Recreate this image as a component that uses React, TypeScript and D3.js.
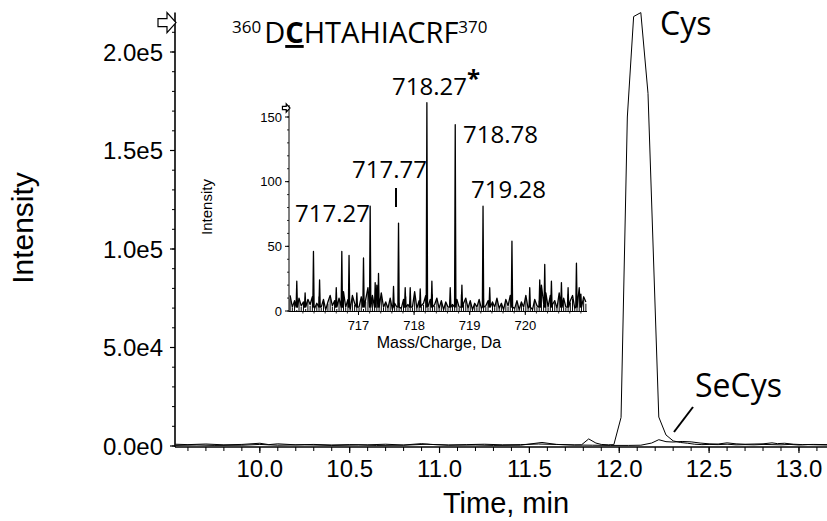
import React from 'react';
import * as d3 from 'd3';

const W = 827;
const H = 521;

// ---------- main chromatogram data ----------
const TIME_TICKS = [10.0, 10.5, 11.0, 11.5, 12.0, 12.5, 13.0];
const INTENSITY_TICKS = [0, 50000, 100000, 150000, 200000];
const INTENSITY_LABELS = ['0.0e0', '5.0e4', '1.0e5', '1.5e5', '2.0e5'];

const CYS_TIME = [9.53, 9.6, 9.7, 9.8, 9.9, 10.0, 10.05, 10.1, 10.2, 10.3, 10.4, 10.5, 10.6, 10.7, 10.8, 10.9, 10.95, 11.05, 11.15, 11.25, 11.35, 11.45, 11.55, 11.65, 11.75, 11.79, 11.83, 11.87, 11.9, 11.94, 11.97, 12.01, 12.045, 12.08, 12.12, 12.16, 12.22, 12.26, 12.3, 12.34, 12.38, 12.42, 12.46, 12.5, 12.55, 12.6, 12.65, 12.7, 12.75, 12.8, 12.85, 12.9, 12.95, 13.0, 13.05, 13.1, 13.16];
const CYS_INT = [900, 700, 1000, 600, 800, 1400, 700, 1100, 600, 800, 500, 700, 600, 900, 500, 1200, 800, 500, 700, 900, 600, 700, 1000, 800, 500, 600, 3600, 1500, 800, 600, 700, 14500, 167000, 218000, 220000, 179000, 14700, 5600, 2600, 1800, 1400, 900, 700, 800, 700, 900, 600, 700, 600, 800, 700, 600, 800, 500, 700, 600, 500];

const SECYS_TIME = [9.53, 9.65, 9.75, 9.9, 10.0, 10.1, 10.25, 10.4, 10.55, 10.65, 10.8, 10.93, 11.05, 11.2, 11.3, 11.45, 11.57, 11.65, 11.75, 11.85, 11.95, 12.05, 12.12, 12.18, 12.22, 12.26, 12.3, 12.35, 12.4, 12.45, 12.5, 12.55, 12.6, 12.65, 12.7, 12.75, 12.8, 12.85, 12.88, 12.92, 12.97, 13.02, 13.08, 13.16];
const SECYS_INT = [300, 500, 300, 400, 800, 400, 600, 300, 500, 300, 400, 900, 400, 500, 300, 400, 1800, 800, 500, 400, 300, 300, 400, 1500, 3200, 2200, 2000, 2300, 2100, 1500, 1100, 1000, 1600, 1100, 900, 1000, 1100, 1600, 1200, 1400, 900, 700, 800, 700];

// ---------- inset spectrum data ----------
const MZ_TICKS = [717, 718, 719, 720];
const SPEC_Y_TICKS = [0, 50, 100, 150];
const SPEC_NOISE_START = 715.77;
const SPEC_NOISE_STEP = 0.04;
const SPEC_NOISE = [
  12, 3, 8, 1, 10, 4, 7, 2, 9, 5, 11, 2, 6, 14, 3, 9, 1, 7, 12, 4,
  8, 2, 10, 5, 15, 3, 9, 1, 12, 6, 8, 3, 11, 2, 9, 18, 4, 12, 6, 20,
  9, 14, 3, 7, 2, 10, 1, 6, 3, 8, 2, 9, 14, 5, 10, 3, 15, 2, 8, 4,
  6, 12, 3, 9, 16, 5, 10, 2, 8, 1, 7, 3, 11, 5, 14, 9, 3, 16, 6, 10,
  2, 8, 1, 6, 3, 9, 2, 12, 4, 8, 1, 7, 3, 10, 2, 6, 1, 9, 4, 12,
  6, 2, 8, 1, 7, 3, 12, 2, 6, 1, 9, 4, 10, 20, 6, 14, 3, 12, 5, 8,
  2, 14, 6, 10, 3, 16, 8, 12, 2, 9, 18, 4, 11, 7,
];
const PEAK_MZ = [715.89, 716.04, 716.19, 716.3, 716.6, 716.7, 716.83, 716.97, 717.09, 717.21, 717.3, 717.36, 717.63, 717.72, 717.84, 717.93, 718.11, 718.23, 718.32, 718.65, 718.74, 718.86, 719.24, 719.36, 719.76, 720.08, 720.26, 720.35, 720.47, 720.65, 720.77, 720.92, 721.0];
const PEAK_INT = [23, 14, 46, 24, 18, 46, 43, 14, 41, 81, 22, 29, 19, 68, 18, 18, 17, 161, 23, 18, 144, 20, 81, 18, 54, 18, 24, 36, 23, 22, 18, 37, 13];

const PEAK_LABELS = ['717.27', '717.77', '718.27', '718.78', '719.28'];
const PEAK_LABEL_POS = [
  { x: 295, y: 222 },
  { x: 352, y: 178 },
  { x: 392, y: 95 },
  { x: 463, y: 143 },
  { x: 471, y: 198 },
];

const AXIS_FONT = '"Liberation Sans", Arial, sans-serif';
const NOTE_FONT = '"Open Sans", "Noto Sans", sans-serif';

function Arrow({ tipX, tipY, s }: { tipX: number; tipY: number; s: number }) {
  const p = [
    [-18, -4], [-9, -4], [-9, -10], [0, 0], [-9, 10], [-9, 4], [-18, 4],
  ].map(([a, b]) => `${tipX + a * s},${tipY + b * s}`).join(' ');
  return <polygon points={p} fill="#fff" stroke="#000" strokeWidth={1.2} strokeLinejoin="miter" />;
}

export default function App() {
  // main scales
  const x = d3.scaleLinear().domain([9.528, 13.156]).range([175, 827]);
  const y = d3.scaleLinear().domain([0, 220000]).range([446, 12.6]);
  const x0 = x.range()[0];
  const y0 = y.range()[0];
  const yTop = y.range()[1];

  const line = d3.line<[number, number]>().x(d => x(d[0])).y(d => y(d[1]));
  const cys = CYS_TIME.map((t, i) => [t, CYS_INT[i]] as [number, number]);
  const secys = SECYS_TIME.map((t, i) => [t, SECYS_INT[i]] as [number, number]);

  const minorX = d3.range(96, 132).map(v => v / 10).filter(v => v >= 9.53 && v <= 13.15);
  const minorY = d3.range(0, 22).map(v => v * 10000);

  // inset scales
  const sx = d3.scaleLinear().domain([715.75, 721.11]).range([289, 587]);
  const sy = d3.scaleLinear().domain([0, 150]).range([311, 117]);
  const sTop = 105;

  const noisePts: [number, number][] = SPEC_NOISE.map((v, i) => [SPEC_NOISE_START + i * SPEC_NOISE_STEP, v]);
  const pts: [number, number][] = [];
  noisePts.forEach(([mz, v]) => {
    if (PEAK_MZ.every(p => Math.abs(p - mz) > 0.016)) pts.push([mz, v]);
  });
  PEAK_MZ.forEach((mz, i) => {
    pts.push([mz - 0.012, 3]);
    pts.push([mz, PEAK_INT[i]]);
    pts.push([mz + 0.012, 3]);
  });
  pts.sort((a, b) => a[0] - b[0]);
  const specLine = d3.line<[number, number]>().x(d => sx(d[0])).y(d => sy(d[1]));
  const specMinorY = d3.range(0, 16).map(v => v * 10);
  const specMinorX = d3.range(7160, 7212, 2).map(v => v / 10);

  return (
    <svg width={W} height={H} style={{ position: 'absolute', left: 0, top: 0, background: '#fff' }}>
      <rect width={W} height={H} fill="#fff" />

      {/* main traces */}
      <path d={line(secys) || ''} fill="none" stroke="#000" strokeWidth={1} />
      <path d={line(cys) || ''} fill="none" stroke="#000" strokeWidth={1} />

      {/* main axes */}
      <line x1={x0} x2={x0} y1={yTop} y2={y0 + 1} stroke="#000" strokeWidth={1.6} />
      <line x1={x0} x2={W} y1={y0 + 1} y2={y0 + 1} stroke="#000" strokeWidth={1.6} />
      {minorX.map(v => (
        <line key={'mx' + v} x1={x(v)} x2={x(v)} y1={y0 + 1} y2={y0 + 5} stroke="#000" strokeWidth={1} />
      ))}
      {TIME_TICKS.map(v => (
        <g key={'tx' + v}>
          <line x1={x(v)} x2={x(v)} y1={y0 + 1} y2={y0 + 7} stroke="#000" strokeWidth={1.2} />
          <text x={x(v)} y={477} textAnchor="middle" fontFamily={AXIS_FONT} fontSize={24} fill="#000">{v.toFixed(1)}</text>
        </g>
      ))}
      {minorY.map(v => (
        <line key={'my' + v} x1={x0 - 3} x2={x0} y1={y(v)} y2={y(v)} stroke="#000" strokeWidth={1} />
      ))}
      {INTENSITY_TICKS.map((v, i) => (
        <g key={'ty' + v}>
          <line x1={x0 - 5} x2={x0} y1={y(v)} y2={y(v)} stroke="#000" strokeWidth={1.2} />
          <text x={163} y={y(v) + 8.5} textAnchor="end" fontFamily={AXIS_FONT} fontSize={24} fill="#000">{INTENSITY_LABELS[i]}</text>
        </g>
      ))}
      <Arrow tipX={x0 + 1} tipY={yTop + 10} s={1} />
      <text transform={`translate(33,228) rotate(-90)`} textAnchor="middle" fontFamily={AXIS_FONT} fontSize={30} fill="#000">Intensity</text>
      <text x={506} y={513} textAnchor="middle" fontFamily={AXIS_FONT} fontSize={29} fill="#000">Time, min</text>

      {/* title */}
      <text x={232} y={43} fontFamily={NOTE_FONT} fontSize={29} fill="#000">
        <tspan fontSize={17} dy={-10}>360</tspan>
        <tspan dy={10} dx={3}>D</tspan>
        <tspan fontWeight="bold" textDecoration="underline">C</tspan>
        <tspan>HTAHIACRF</tspan>
        <tspan fontSize={17} dy={-10}>370</tspan>
      </text>

      {/* peak annotations */}
      <text x={660} y={35} fontFamily={NOTE_FONT} fontSize={32} fill="#000">Cys</text>
      <text x={695} y={397} fontFamily={NOTE_FONT} fontSize={32} fill="#000">SeCys</text>
      <line x1={693} y1={407} x2={674} y2={432} stroke="#000" strokeWidth={2} />

      {/* inset spectrum */}
      {noisePts.map(([mz, v]) => (
        <line key={'ns' + mz} x1={sx(mz)} x2={sx(mz)} y1={sy(0)} y2={sy(v * 0.8)} stroke="#000" strokeWidth={1} />
      ))}
      <path d={specLine(pts) || ''} fill="none" stroke="#000" strokeWidth={1.3} strokeLinejoin="round" />
      <line x1={289} x2={289} y1={sTop} y2={312} stroke="#000" strokeWidth={1} />
      <line x1={289} x2={587} y1={311.5} y2={311.5} stroke="#000" strokeWidth={1} />
      {specMinorY.map(v => (
        <line key={'smy' + v} x1={287} x2={289} y1={sy(v)} y2={sy(v)} stroke="#000" strokeWidth={0.8} />
      ))}
      {SPEC_Y_TICKS.map(v => (
        <g key={'sty' + v}>
          <line x1={285} x2={289} y1={sy(v)} y2={sy(v)} stroke="#000" strokeWidth={1} />
          <text x={282} y={sy(v) + 4.5} textAnchor="end" fontFamily={AXIS_FONT} fontSize={13} fill="#000">{v}</text>
        </g>
      ))}
      {specMinorX.map(v => (
        <line key={'smx' + v} x1={sx(v)} x2={sx(v)} y1={311.5} y2={313.5} stroke="#000" strokeWidth={0.8} />
      ))}
      {MZ_TICKS.map(v => (
        <g key={'stx' + v}>
          <line x1={sx(v)} x2={sx(v)} y1={311.5} y2={315} stroke="#000" strokeWidth={1} />
          <text x={sx(v)} y={330} textAnchor="middle" fontFamily={AXIS_FONT} fontSize={13} fill="#000">{v}</text>
        </g>
      ))}
      <Arrow tipX={290} tipY={108} s={0.42} />
      <text transform={`translate(212,207) rotate(-90)`} textAnchor="middle" fontFamily={AXIS_FONT} fontSize={15} fill="#000">Intensity</text>
      <text x={439} y={348} textAnchor="middle" fontFamily={AXIS_FONT} fontSize={16} fill="#000">Mass/Charge, Da</text>

      {PEAK_LABELS.map((lab, i) => (
        <text key={lab} x={PEAK_LABEL_POS[i].x} y={PEAK_LABEL_POS[i].y} fontFamily={NOTE_FONT} fontSize={24} fill="#000">
          {lab}
          {i === 2 ? <tspan fontWeight="bold" fontSize={24} dy={-8}>*</tspan> : null}
        </text>
      ))}
      <line x1={396} x2={396} y1={188} y2={207} stroke="#000" strokeWidth={2} />
    </svg>
  );
}
